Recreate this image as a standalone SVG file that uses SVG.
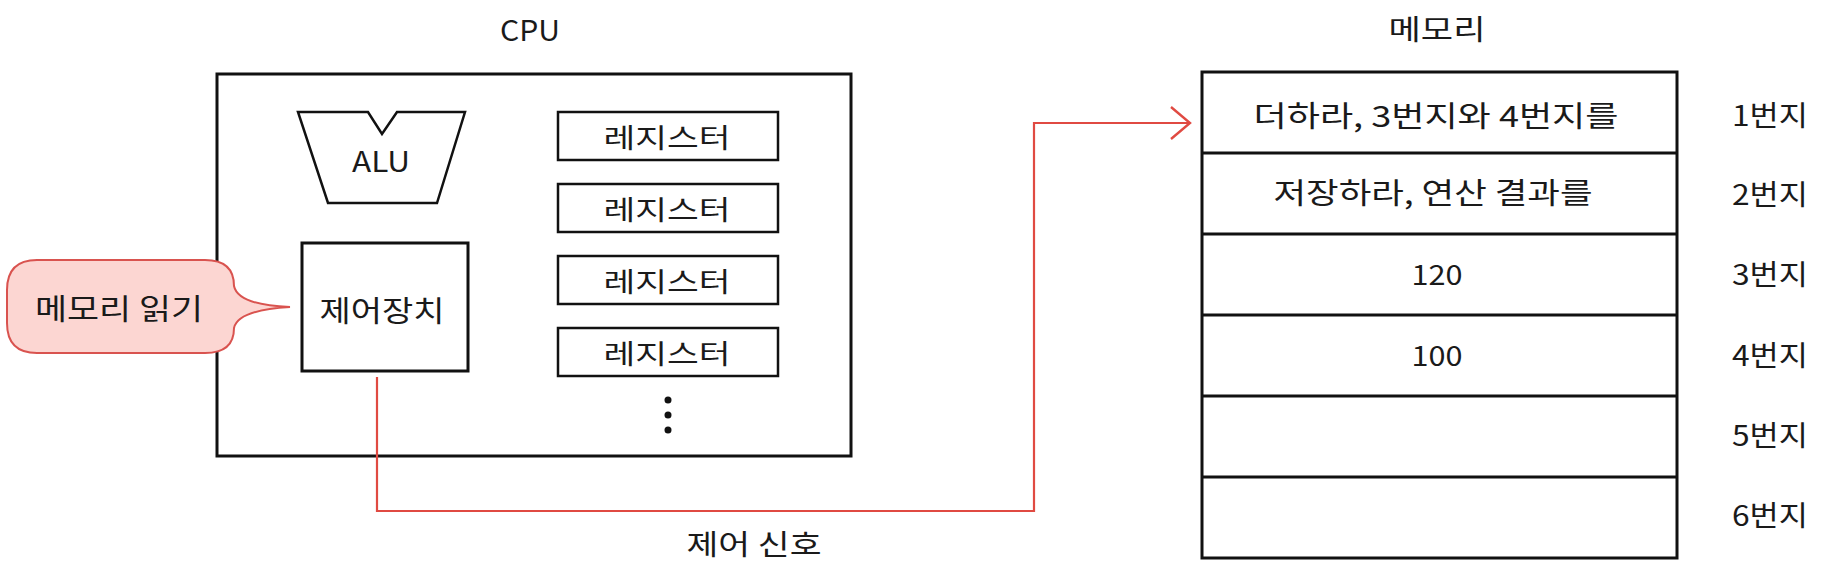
<svg xmlns="http://www.w3.org/2000/svg" width="1832" height="588" viewBox="0 0 1832 588">
<defs>
<style>
text{font-family:"Noto Sans CJK KR","Noto Sans",sans-serif;fill:#1a1a1a;text-anchor:middle;dominant-baseline:central}
.box{fill:#fff;stroke:#111;stroke-width:3}
.reg{fill:#fff;stroke:#111;stroke-width:2.5}
.red{fill:none;stroke:#e04a42;stroke-width:2.2}
.div{stroke:#111;stroke-width:3}
.t27{font-size:27px}
.t28{font-size:28px}
.t29{font-size:29px}
</style>
<marker id="arr" markerWidth="26" markerHeight="36" refX="21" refY="17" orient="auto" markerUnits="userSpaceOnUse">
<path d="M2,1 L21,17 L2,33" fill="none" stroke="#e04a42" stroke-width="2.4"/>
</marker>
</defs>
<rect width="1832" height="588" fill="#fff"/>

<g id="cpu">
<text x="530" y="28" class="t29" textLength="60" lengthAdjust="spacingAndGlyphs">CPU</text>
<rect x="217" y="74" width="634" height="382" class="box" stroke-width="3.5"/>
</g>

<g id="alu">
<path d="M298,112 L368,112 L382,134 L397,112 L465,112 L437,203 L328,203 Z" class="reg"/>
<text x="381" y="160" class="t28" textLength="58" lengthAdjust="spacingAndGlyphs">ALU</text>
</g>

<g id="control-unit">
<rect x="302" y="243" width="166" height="128" class="box"/>
<text x="382" y="309" class="t29" textLength="125" lengthAdjust="spacingAndGlyphs">제어장치</text>
</g>

<g id="registers">
<rect x="558" y="112" width="220" height="48" class="reg"/>
<text x="667" y="136" class="t27" textLength="127" lengthAdjust="spacingAndGlyphs">레지스터</text>
<rect x="558" y="184" width="220" height="48" class="reg"/>
<text x="667" y="208" class="t27" textLength="127" lengthAdjust="spacingAndGlyphs">레지스터</text>
<rect x="558" y="256" width="220" height="48" class="reg"/>
<text x="667" y="280" class="t27" textLength="127" lengthAdjust="spacingAndGlyphs">레지스터</text>
<rect x="558" y="328" width="220" height="48" class="reg"/>
<text x="667" y="352" class="t27" textLength="127" lengthAdjust="spacingAndGlyphs">레지스터</text>
<circle cx="668" cy="400" r="3.5" fill="#111"/>
<circle cx="668" cy="415" r="3.5" fill="#111"/>
<circle cx="668" cy="430" r="3.5" fill="#111"/>
</g>

<g id="bubble">
<path d="M37,260 H205 Q234,260 234,286 Q238,305 290,307 Q238,310 234,328 Q234,353 205,353 H37 Q7,353 7,323 V290 Q7,260 37,260 Z" fill="#fcd6d2" stroke="#d9534f" stroke-width="2"/>
<text x="119" y="307" class="t29" textLength="168" lengthAdjust="spacingAndGlyphs">메모리 읽기</text>
</g>

<g id="connectors">
<path d="M377,377 V511 H1034 V123 H1190" class="red" marker-end="url(#arr)"/>
<text x="754" y="543" class="t28" textLength="135" lengthAdjust="spacingAndGlyphs">제어 신호</text>
</g>

<g id="memory">
<text x="1437" y="28" class="t28" textLength="97" lengthAdjust="spacingAndGlyphs">메모리</text>
<rect x="1202" y="72" width="475" height="486" class="box"/>
<line x1="1202" y1="153" x2="1677" y2="153" class="div"/>
<line x1="1202" y1="234" x2="1677" y2="234" class="div"/>
<line x1="1202" y1="315" x2="1677" y2="315" class="div"/>
<line x1="1202" y1="396" x2="1677" y2="396" class="div"/>
<line x1="1202" y1="477" x2="1677" y2="477" class="div"/>
<text x="1436" y="114" class="t29" textLength="365" lengthAdjust="spacingAndGlyphs">더하라, 3번지와 4번지를</text>
<text x="1433" y="191" class="t29" textLength="319" lengthAdjust="spacingAndGlyphs">저장하라, 연산 결과를</text>
<text x="1437" y="273" class="t28" textLength="51" lengthAdjust="spacingAndGlyphs">120</text>
<text x="1437" y="354" class="t28" textLength="51" lengthAdjust="spacingAndGlyphs">100</text>
</g>

<g id="addresses">
<text x="1770" y="114" class="t28" textLength="76" lengthAdjust="spacingAndGlyphs">1번지</text>
<text x="1770" y="193" class="t28" textLength="76" lengthAdjust="spacingAndGlyphs">2번지</text>
<text x="1770" y="273" class="t28" textLength="76" lengthAdjust="spacingAndGlyphs">3번지</text>
<text x="1770" y="354" class="t28" textLength="76" lengthAdjust="spacingAndGlyphs">4번지</text>
<text x="1770" y="434" class="t28" textLength="76" lengthAdjust="spacingAndGlyphs">5번지</text>
<text x="1770" y="514" class="t28" textLength="76" lengthAdjust="spacingAndGlyphs">6번지</text>
</g>
</svg>
